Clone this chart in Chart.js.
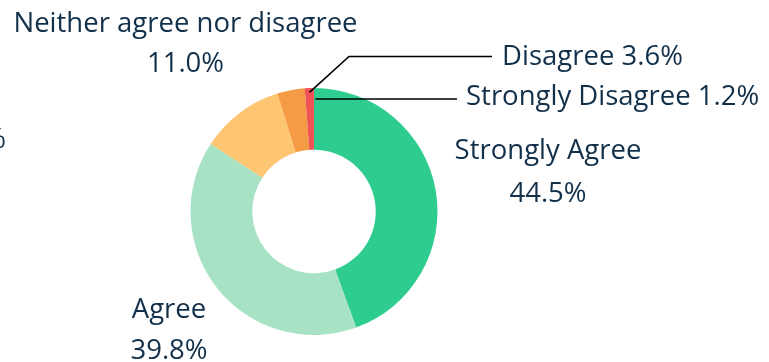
<!DOCTYPE html>
<html>
<head>
<meta charset="utf-8">
<script src="https://cdn.jsdelivr.net/npm/chart.js@4"></script>
<style>
  html, body { margin: 0; padding: 0; background: #ffffff; }
  #wrap { width: 769px; height: 362px; position: relative; }
</style>
</head>
<body>
<div id="wrap"><canvas id="c" width="769" height="362"></canvas></div>
<script>
// Survey responses (share of respondents, %)
const categories = ['Strongly Agree', 'Agree', 'Neither agree nor disagree', 'Disagree', 'Strongly Disagree'];
const shares = [44.5, 39.8, 11.0, 3.6, 1.2];
const sliceColors = ['#2ECC8E', '#A8E2C4', '#FEC573', '#F59B45', '#F05356'];

const TEXT = '#12304A';
const FONT = '27.5px "Open Sans", "Noto Sans", sans-serif';

// Labels drawn beside the doughnut, with leader lines for the thin slices
const labelPlugin = {
  id: 'sliceLabels',
  afterDatasetsDraw(chart) {
    const ctx = chart.ctx;
    const arcs = chart.getDatasetMeta(0).data;
    const a0 = arcs[0];
    const cx = a0.x, cy = a0.y, R = a0.outerRadius;
    const pt = (ang, rf) => [cx + Math.cos(ang) * R * rf, cy + Math.sin(ang) * R * rf];
    const fmt = v => v.toFixed(1) + '%';

    ctx.save();
    ctx.fillStyle = TEXT;
    ctx.font = FONT;
    ctx.textBaseline = 'alphabetic';

    // Strongly Agree
    ctx.textAlign = 'center';
    ctx.fillText(categories[0], 548, 159);
    ctx.fillText(fmt(shares[0]), 548, 202);
    // Agree
    ctx.fillText(categories[1], 169, 318);
    ctx.fillText(fmt(shares[1]), 169, 359);
    // Neither agree nor disagree
    ctx.fillText(categories[2], 185.5, 32);
    ctx.fillText(fmt(shares[2]), 185.5, 72);

    // leader lines
    ctx.strokeStyle = '#000000';
    ctx.lineWidth = 1.6;
    const sd = arcs[4];
    const mid = (sd.startAngle + sd.endAngle) / 2;
    const p1 = pt(mid, 0.965);
    ctx.beginPath();
    ctx.moveTo(p1[0], p1[1]);
    ctx.lineTo(349, 56.5);
    ctx.lineTo(492, 56.5);
    ctx.stroke();

    const p2 = pt(sd.endAngle + 0.012, 0.905);
    ctx.beginPath();
    ctx.moveTo(p2[0], 99);
    ctx.lineTo(457, 99);
    ctx.stroke();

    ctx.textAlign = 'left';
    ctx.fillText(categories[3] + ' ' + fmt(shares[3]), 502, 65);
    ctx.fillText(categories[4] + ' ' + fmt(shares[4]), 466, 105);

    // trailing text at the left edge
    ctx.textAlign = 'right';
    ctx.fillText('%', 6, 148);
    ctx.restore();
  }
};

new Chart(document.getElementById('c'), {
  type: 'doughnut',
  data: {
    labels: categories,
    datasets: [{
      data: shares,
      backgroundColor: sliceColors,
      borderWidth: 0
    }]
  },
  options: {
    responsive: false,
    animation: false,
    cutout: '50%',
    layout: { padding: { left: 190, right: 331, top: 88, bottom: 27 } },
    plugins: {
      legend: { display: false },
      tooltip: { enabled: false }
    }
  },
  plugins: [labelPlugin]
});
</script>
</body>
</html>
